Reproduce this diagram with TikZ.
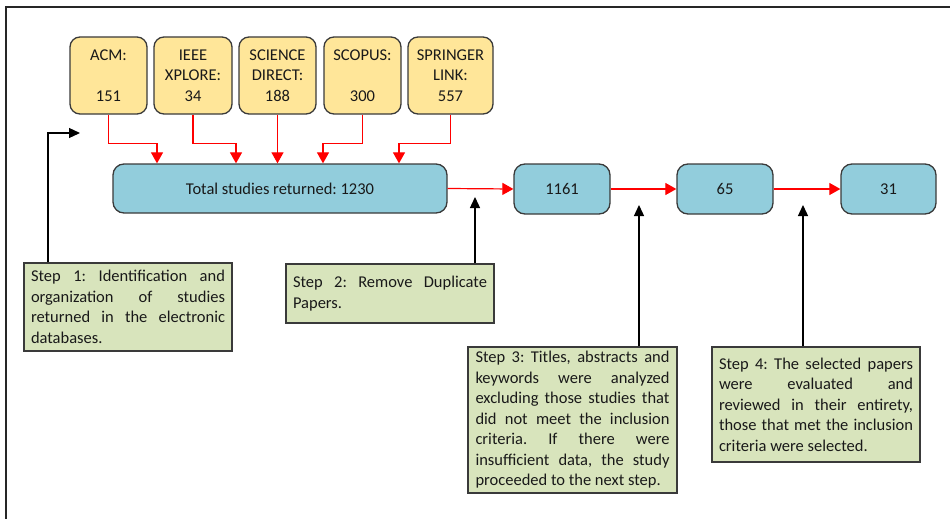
\documentclass[tikz,border=0pt]{standalone}
\usepackage{fontspec}
\setmainfont{Carlito}
\usetikzlibrary{arrows.meta}
\definecolor{ybox}{HTML}{FFE699}
\definecolor{bbox}{HTML}{92CDDC}
\definecolor{gbox}{HTML}{D8E4BC}
\definecolor{bordr}{HTML}{3A3A3A}
\frenchspacing
\begin{document}
\begin{tikzpicture}[x=1pt,y=-1pt,
  every node/.style={font=\fontsize{16.5}{20.5}\selectfont\frenchspacing, text=black!90},
  dbbox/.style={draw=bordr, line width=1.3pt, fill=ybox, rounded corners=10pt, minimum height=77pt, inner sep=0pt, align=center},
  numbox/.style={draw=bordr, line width=1.3pt, fill=bbox, rounded corners=11pt, minimum height=50pt, inner sep=0pt, align=center},
  stepbox/.style={draw=bordr, line width=1.3pt, fill=gbox, minimum width=208pt, inner sep=0pt, text width=194pt, align=justify},
  redarr/.style={-{Triangle[length=11pt,width=12pt]}, line width=1.2pt, draw=red},
  blkarr/.style={-{Triangle[length=11pt,width=10pt]}, line width=1.3pt, draw=black}]
\useasboundingbox (0,0) rectangle (950,519);
\draw[line width=1.5pt, draw=black!85] (6,519) -- (6,7) -- (950,7);

% database boxes
\node[dbbox, minimum width=77pt] (acm) at (108.5,75.5) {ACM:\\\mbox{}\\151};
\node[dbbox, minimum width=78pt] (ieee) at (193,75.5) {IEEE\\XPLORE:\\34};
\node[dbbox, minimum width=77pt] (sci) at (277.5,75.5) {SCIENCE\\DIRECT:\\188};
\node[dbbox, minimum width=77pt] (sco) at (362.5,75.5) {SCOPUS:\\\mbox{}\\300};
\node[dbbox, minimum width=85pt] (spr) at (450.5,75.5) {SPRINGER\\LINK:\\557};

% count boxes
\node[numbox, minimum width=334pt, minimum height=49pt] (total) at (280,188.5) {Total studies returned: 1230};
\node[numbox, minimum width=96pt] (n1) at (562,189) {1161};
\node[numbox, minimum width=96pt] (n2) at (725,189) {65};
\node[numbox, minimum width=95pt] (n3) at (888.5,189) {31};

% step boxes
\node[stepbox, minimum height=88pt] (s1) at (128,307) {Step 1: Identification and\linebreak organization of studies\linebreak returned in the electronic\linebreak databases.};
\node[stepbox, minimum height=59pt] (s2) at (390,293.5) {Step 2: Remove Duplicate\linebreak Papers.};
\node[stepbox, minimum width=209pt, minimum height=146pt] (s3) at (572.5,420) {Step 3: Titles, abstracts and\linebreak keywords were analyzed\linebreak excluding those studies that\linebreak did not meet the inclusion\linebreak criteria. If there were\linebreak insufficient data, the study\linebreak proceeded to the next step.};
\node[stepbox, minimum height=115pt] (s4) at (816,404.5) {Step 4: The selected papers\linebreak were evaluated and\linebreak reviewed in their entirety,\linebreak those that met the inclusion\linebreak criteria were selected.};

% red arrows into total
\draw[redarr] (acm.south) -- ++(0,29) -| (total.north -| 157,0);
\draw[redarr] (ieee.south) -- ++(0,29) -| (total.north -| 236,0);
\draw[redarr] (sci.south) -- (total.north -| sci.south);
\draw[redarr] (sco.south) -- ++(0,29) -| (total.north -| 323,0);
\draw[redarr] (spr.south) -- ++(0,29) -| (total.north -| 399,0);

% red chain
\draw[redarr] (total.east) -- (n1.west);
\draw[redarr] (n1.east) -- (n2.west);
\draw[redarr] (n2.east) -- (n3.west);

% black step arrows
\coordinate (e1) at (80,133);
\coordinate (e2) at (475,197);
\coordinate (e3) at (639,205);
\coordinate (e4) at (803,205);
\draw[blkarr] (s1.north -| 48,0) |- (e1);
\draw[blkarr] (s2.north -| e2) -- (e2);
\draw[blkarr] (s3.north -| e3) -- (e3);
\draw[blkarr] (s4.north -| e4) -- (e4);
\end{tikzpicture}
\end{document}
